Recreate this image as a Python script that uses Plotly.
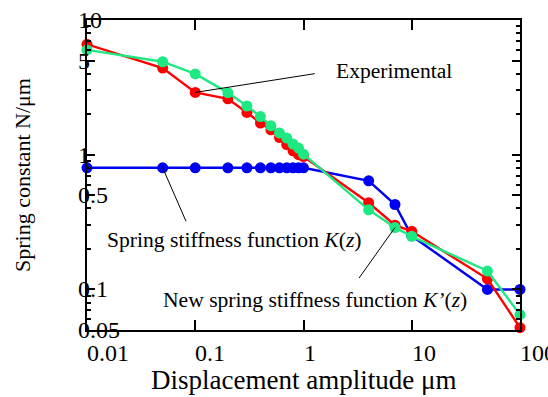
import math
import plotly.graph_objects as go

# ---- data ----
displacement = [0.01, 0.05, 0.1, 0.2, 0.3, 0.4, 0.5, 0.6, 0.7, 0.8, 0.9, 1.0, 4, 7, 10, 50, 100]
experimental = [6.6, 4.4, 2.9, 2.6, 2.06, 1.72, 1.53, 1.34, 1.19, 1.07, 1.0, 0.97, 0.44, 0.30, 0.27, 0.12, 0.052]
k_func = [0.8, 0.8, 0.8, 0.8, 0.8, 0.8, 0.8, 0.8, 0.8, 0.8, 0.8, 0.8, 0.64, 0.427, 0.25, 0.1, 0.1]
k_new = [6.0, 4.9, 3.98, 2.89, 2.3, 1.92, 1.64, 1.45, 1.33, 1.2, 1.12, 1.01, 0.39, 0.288, 0.248, 0.137, 0.065]

x_tick_vals = [0.01, 0.1, 1, 10, 100]
x_tick_text = ["0.01", "0.1", "1", "10", "100"]
y_tick_vals = [0.05, 0.1, 0.5, 1, 5, 10]
y_tick_text = ["0.05", "0.1", "0.5", "1", "5", "10"]
y_minor_vals = [0.06, 0.07, 0.08, 0.09, 0.2, 0.3, 0.4, 0.6, 0.7, 0.8, 0.9,
                2, 3, 4, 6, 7, 8, 9]

FONT = "Liberation Serif"
RED = "#ff0000"
BLUE = "#0000f0"
GREEN = "#1ee882"

fig = go.Figure()
for yvals, col in [(k_func, BLUE), (experimental, RED), (k_new, GREEN)]:
    fig.add_trace(go.Scatter(
        x=displacement, y=yvals, mode="lines+markers",
        line=dict(color=col, width=2.4),
        marker=dict(color=col, size=11),
        cliponaxis=False, showlegend=False, hoverinfo="skip"))

axis_common = dict(
    type="log", showgrid=False, zeroline=False, showline=True,
    linecolor="black", linewidth=2, mirror="allticks",
    ticks="inside", tickcolor="black", tickwidth=2,
    showticklabels=False,
)
fig.update_xaxes(**axis_common, range=[-2, 2], tickmode="array",
                 tickvals=x_tick_vals, ticklen=10)
fig.update_yaxes(**axis_common, range=[math.log10(0.05), 1], tickmode="array",
                 tickvals=y_tick_vals, ticklen=8,
                 minor=dict(ticks="inside", tickmode="array", tickvals=y_minor_vals,
                            ticklen=4, tickwidth=2, tickcolor="black"))

ann = []
# x tick labels (left-aligned at tick)
for v, t in zip(x_tick_vals, x_tick_text):
    ann.append(dict(x=math.log10(v), y=0, xref="x", yref="paper", text=t,
                    xanchor="left", yanchor="middle", xshift=-2, yshift=-23,
                    showarrow=False, font=dict(family=FONT, size=24, color="black")))
# y tick labels (overlapping the axis)
for v, t in zip(y_tick_vals, y_tick_text):
    ann.append(dict(x=0, y=math.log10(v), xref="paper", yref="y", text=t,
                    xanchor="left", yanchor="middle", xshift=-11, yshift=0,
                    showarrow=False, font=dict(family=FONT, size=24, color="black")))

# axis titles
ann.append(dict(x=0.5, y=0, xref="paper", yref="paper", text="Displacement amplitude μm",
                xanchor="center", yanchor="middle", yshift=-50, showarrow=False,
                font=dict(family=FONT, size=27, color="black")))
ann.append(dict(x=0, y=0.5, xref="paper", yref="paper", text="Spring constant N/μm",
                textangle=-90, xanchor="center", yanchor="middle", xshift=-65,
                showarrow=False, font=dict(family=FONT, size=22, color="black")))

# labels
lab_font = dict(family=FONT, size=21.6, color="black")
ann.append(dict(x=0.710, y=0.835, xref="paper", yref="paper", text="Experimental",
                xanchor="center", yanchor="middle", showarrow=False, font=lab_font))
ann.append(dict(x=0.340, y=0.29, xref="paper", yref="paper",
                text="Spring stiffness function <i>K</i>(<i>z</i>)",
                xanchor="center", yanchor="middle", showarrow=False, font=lab_font))
ann.append(dict(x=0.527, y=0.096, xref="paper", yref="paper",
                text="New spring stiffness function <i>K’</i>(<i>z</i>)",
                xanchor="center", yanchor="middle", showarrow=False, font=lab_font))

# leader lines
line_kw = dict(text="", showarrow=True, arrowhead=0, arrowwidth=1, arrowcolor="black",
               standoff=0, startstandoff=0, xref="x", yref="y")
ann.append(dict(x=math.log10(displacement[2]), y=math.log10(experimental[2]), ax=121, ay=-19, **line_kw))
ann.append(dict(x=math.log10(displacement[1]), y=math.log10(k_func[1]), ax=24, ay=55, **line_kw))
ann.append(dict(x=math.log10(displacement[13]), y=math.log10(k_new[13]), ax=-37, ay=52, **line_kw))

fig.update_layout(
    width=548, height=397,
    margin=dict(l=87, r=28, t=20, b=67),
    paper_bgcolor="white", plot_bgcolor="white",
    annotations=ann,
    font=dict(family=FONT, color="black"),
)

fig.write_html("out.html", config={"displayModeBar": False},
               post_script="document.body.style.margin='0';document.body.style.overflow='hidden';")
